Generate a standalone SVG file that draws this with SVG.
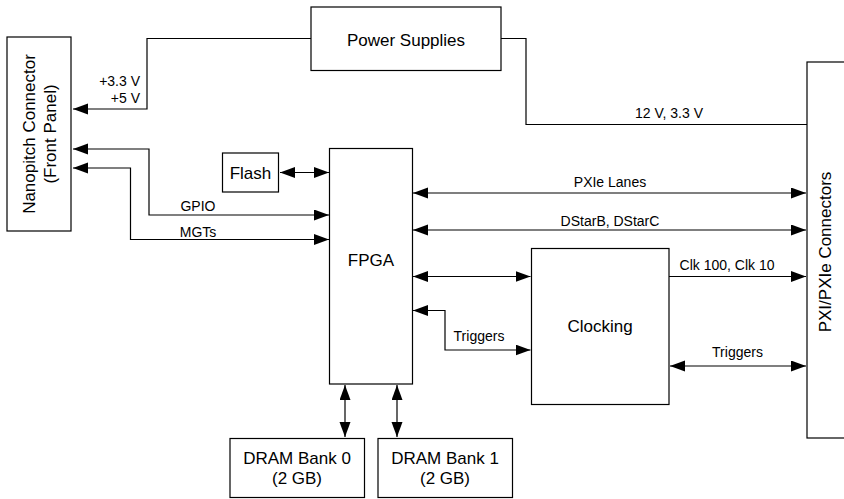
<svg xmlns="http://www.w3.org/2000/svg" width="844" height="499" viewBox="0 0 844 499">
<defs>
<style>
.box{fill:#fff;stroke:#000;stroke-width:1.2}
.ln{fill:none;stroke:#000;stroke-width:1.2}
.nl{font-family:"Liberation Sans",Arial,sans-serif;font-size:17px;fill:#000;text-anchor:middle}
.sl{font-family:"Liberation Sans",Arial,sans-serif;font-size:14px;fill:#000;text-anchor:middle}
</style>
<marker id="ah" markerUnits="userSpaceOnUse" markerWidth="16" markerHeight="12" refX="15" refY="5.5" orient="auto-start-reverse" viewBox="0 0 16 12">
<path d="M0,0 L15,5.5 L0,11 z" fill="#000"/>
</marker>
</defs>
<rect width="844" height="499" fill="#fff"/>
<g id="connectors">
<path class="ln" d="M311,38.5 H147 V109 H73" marker-end="url(#ah)"/>
<path class="ln" d="M501,38.5 H526 V124.5 H807"/>
<path class="ln" d="M329,215 H149 V149 H73" marker-start="url(#ah)" marker-end="url(#ah)"/>
<path class="ln" d="M329,239.5 H130.5 V168 H73" marker-start="url(#ah)" marker-end="url(#ah)"/>
<path class="ln" d="M280,172.5 H329" marker-start="url(#ah)" marker-end="url(#ah)"/>
<path class="ln" d="M413,193 H806" marker-start="url(#ah)" marker-end="url(#ah)"/>
<path class="ln" d="M413,230 H806" marker-start="url(#ah)" marker-end="url(#ah)"/>
<path class="ln" d="M413,276.5 H530.5" marker-start="url(#ah)" marker-end="url(#ah)"/>
<path class="ln" d="M413,310.5 H445 V350 H530.5" marker-start="url(#ah)" marker-end="url(#ah)"/>
<path class="ln" d="M669,276.5 H806" marker-end="url(#ah)"/>
<path class="ln" d="M670,366 H806" marker-start="url(#ah)" marker-end="url(#ah)"/>
<path class="ln" d="M345,385 V437" marker-start="url(#ah)" marker-end="url(#ah)"/>
<path class="ln" d="M397,385 V437" marker-start="url(#ah)" marker-end="url(#ah)"/>
<text class="sl" x="140" y="86" style="text-anchor:end">+3.3 V</text>
<text class="sl" x="140" y="103" style="text-anchor:end">+5 V</text>
<text class="sl" x="198" y="211">GPIO</text>
<text class="sl" x="198" y="237">MGTs</text>
<text class="sl" x="669" y="118">12 V, 3.3 V</text>
<text class="sl" x="610" y="187">PXIe Lanes</text>
<text class="sl" x="610" y="226">DStarB, DStarC</text>
<text class="sl" x="727" y="270">Clk 100, Clk 10</text>
<text class="sl" x="479" y="341">Triggers</text>
<text class="sl" x="737.5" y="357">Triggers</text>
</g>
<g id="nanopitch">
<rect class="box" x="7" y="37" width="64" height="194"/>
<text class="nl" transform="translate(34.5,134) rotate(-90)">Nanopitch Connector</text>
<text class="nl" transform="translate(55.5,134) rotate(-90)">(Front Panel)</text>
</g>
<g id="power">
<rect class="box" x="311" y="7" width="190" height="63.5"/>
<text class="nl" x="406" y="45.5">Power Supplies</text>
</g>
<g id="pxi">
<rect class="box" x="807" y="62" width="60" height="376"/>
<text class="nl" transform="translate(831,252) rotate(-90)">PXI/PXIe Connectors</text>
</g>
<g id="flash">
<rect class="box" x="222.5" y="153" width="56" height="39"/>
<text class="nl" x="250.5" y="178.5">Flash</text>
</g>
<g id="fpga">
<rect class="box" x="329.5" y="148.5" width="83" height="235.5"/>
<text class="nl" x="371" y="265.5">FPGA</text>
</g>
<g id="clocking">
<rect class="box" x="531.5" y="248.5" width="137.5" height="156"/>
<text class="nl" x="600" y="332">Clocking</text>
</g>
<g id="dram0">
<rect class="box" x="230" y="438.5" width="134.5" height="59"/>
<text class="nl" x="297" y="463.5">DRAM Bank 0</text>
<text class="nl" x="297" y="483.5">(2 GB)</text>
</g>
<g id="dram1">
<rect class="box" x="378" y="438.5" width="134.5" height="59"/>
<text class="nl" x="445" y="463.5">DRAM Bank 1</text>
<text class="nl" x="445" y="483.5">(2 GB)</text>
</g>
</svg>
